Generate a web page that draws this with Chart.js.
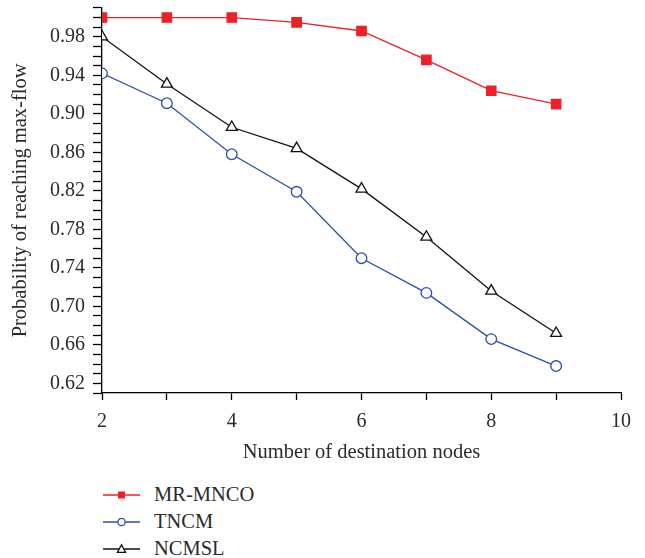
<!DOCTYPE html>
<html>
<head>
<meta charset="utf-8">
<script src="https://cdn.jsdelivr.net/npm/chart.js@4/dist/chart.umd.min.js"></script>
<style>
body{margin:0;background:#fff}
#wrap{position:relative;width:645px;height:558px}
#box{position:absolute;left:0;top:0;width:645px;height:470px}
#legend{position:absolute;left:103px;top:481px;font-family:"Liberation Serif",serif;font-size:20.5px;color:#2b2b2b}
.row{height:27px;display:flex;align-items:center}
.row svg{margin-right:14px}
</style>
</head>
<body>
<div id="wrap">
<div id="box"><canvas id="c"></canvas></div>
<div id="legend"></div>
</div>
<script>
nodes  = [2,3,4,5,6,7,8,9]
mrmnco = [1.000,1.000,1.000,0.995,0.986,0.956,0.924,0.910]
tncm   = [0.942,0.911,0.858,0.819,0.750,0.714,0.666,0.638]
ncmsl  = [0.980,0.931,0.886,0.864,0.822,0.772,0.716,0.672]

names  = ['MR-MNCO','TNCM','NCMSL']
colors = ['#ea2127','#2d4fa6','#111111']
styles = ['rect','circle','triangle']
radius = [6.6,5.3,6.3]
fills  = ['#ea2127','#ffffff','#ffffff']
series = [mrmnco,tncm,ncmsl]

font='"Liberation Serif", serif'
txt='#2b2b2b'

function pts(v){
    out=[]
    for(i=0;i<nodes.length;i++) out.push({x:nodes[i],y:v[i]})
    return out
}

sets=[]
for(k=0;k<3;k++){
    sets.push({
        label:names[k],
        data:pts(series[k]),
        borderColor:colors[k],
        backgroundColor:fills[k],
        borderWidth:1.3,
        pointStyle:styles[k],
        pointRadius:radius[k],
        pointBorderWidth:1.3,
        pointBorderColor:colors[k],
        pointBackgroundColor:fills[k],
        tension:0
    })
}

new Chart(document.getElementById('c').getContext('2d'),{
    type:'line',
    data:{datasets:sets},
    options:{
        responsive:true,
        maintainAspectRatio:false,
        animation:false,
        layout:{padding:{left:0,right:24,top:0,bottom:0}},
        plugins:{legend:{display:false},tooltip:{enabled:false}},
        scales:{
            x:{
                type:'linear',min:2,max:10,
                border:{color:'#000',width:1.3},
                grid:{drawOnChartArea:false,tickLength:7,tickColor:'#000',tickWidth:1.3},
                ticks:{stepSize:1,autoSkip:false,maxRotation:0,color:txt,padding:10,
                    font:{family:font,size:20},
                    callback:function(v){return v%2==0?String(v):''}},
                title:{display:true,text:'Number of destination nodes',color:txt,
                    font:{family:font,size:20.5},padding:{top:4,bottom:5}},
                afterFit:function(s){s.height=77}
            },
            y:{
                min:0.61,max:1.01,
                border:{color:'#000',width:1.3},
                grid:{drawOnChartArea:false,tickLength:9,tickColor:'#000',tickWidth:1.3},
                ticks:{stepSize:0.01,autoSkip:false,color:txt,padding:8,
                    font:{family:font,size:20},
                    callback:function(v){
                        n=Math.round(v*100)
                        return (n-62)%4==0 && n<=98 ? (n/100).toFixed(2) : ''
                    }},
                title:{display:true,text:'Probability of reaching max-flow',color:txt,
                    font:{family:font,size:20.5},padding:{top:8,bottom:0}},
                afterFit:function(s){s.width=102;s.paddingTop=7}
            }
        }
    }
})

// legend: line - marker - line, like the original
lg=document.getElementById('legend')
for(k=0;k<3;k++){
    m=''
    if(styles[k]=='rect') m='<rect x="15" y="2.5" width="7" height="7" fill="'+colors[k]+'"/>'
    if(styles[k]=='circle') m='<circle cx="18.5" cy="6" r="3.6" fill="#fff" stroke="'+colors[k]+'" stroke-width="1.3"/>'
    if(styles[k]=='triangle') m='<path d="M18.5 1.8 L22.6 9.4 L14.4 9.4 Z" fill="#fff" stroke="'+colors[k]+'" stroke-width="1.3"/>'
    lg.innerHTML+='<div class="row"><svg width="37" height="12"><line x1="0" y1="6" x2="37" y2="6" stroke="'+colors[k]+'" stroke-width="1.3"/>'+m+'</svg>'+names[k]+'</div>'
}
</script>
</body>
</html>
